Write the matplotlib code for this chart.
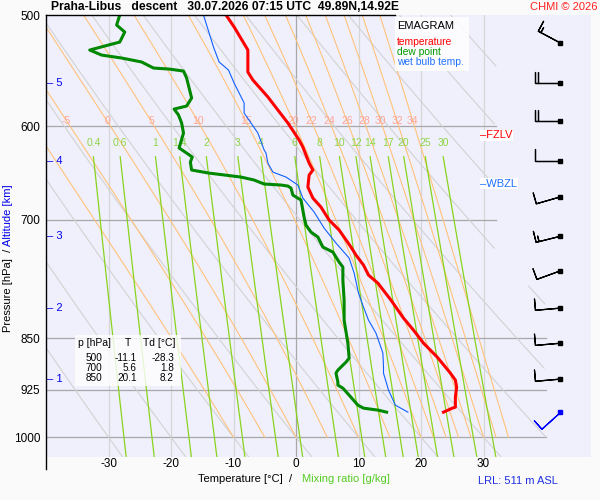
import numpy as np
import matplotlib
matplotlib.use('Agg')
import matplotlib.pyplot as plt
from matplotlib.lines import Line2D
from matplotlib.patches import Rectangle
from matplotlib.ticker import NullLocator

plt.rcParams['font.family'] = ['Liberation Sans', 'DejaVu Sans']

# sounding (p [hPa], T [C])
temp_p = [500, 509.9, 529.6, 549.1, 556.3, 572.0, 584.4, 597.0, 613.9, 621.0, 637.6, 644.9,
          650.3, 663.2, 675.3, 685.4, 700.1, 711.7, 731.9, 741.6, 753.8, 766.3, 776.5, 798.5,
          822.4, 838.8, 856.9, 876.8, 900.1, 910.5, 921.1, 936.4, 951.9, 953.4, 959.7]
temp_t = [-11.2, -9.9, -7.7, -7.7, -6.9, -4.5, -2.9, -1.3, 0.5, 1.1, 2.1, 2.7,
          2.1, 1.9, 2.7, 4.0, 5.3, 6.9, 8.8, 9.6, 10.8, 11.6, 13.1, 15.2,
          17.2, 18.8, 20.4, 22.6, 24.7, 25.5, 25.7, 25.5, 25.5, 25.0, 23.6]

dew_p = [500, 508.3, 514.2, 522.7, 529.6, 534.0, 536.6, 540.1, 545.5, 546.4, 548.2, 554.5,
         573.0, 580.6, 583.5, 589.2, 597.0, 606.9, 622.0, 627.2, 631.3, 636.5, 644.9, 648.1,
         652.4, 655.6, 659.9, 661.0, 662.1, 664.3, 672.0, 677.5, 696.7, 705.9, 714.1, 719.9,
         731.9, 737.9, 750.2, 756.3, 772.6, 798.5, 825.1, 856.9, 878.2, 884.0, 895.7, 900.1,
         913.5, 918.1, 922.6, 933.3, 948.7, 953.4, 956.6, 959.7]
dew_t = [-28.2, -28.7, -27.4, -28.2, -33.0, -31.1, -27.9, -24.7, -22.8, -20.3, -18.0, -17.5,
         -16.7, -17.5, -19.5, -18.8, -18.3, -18.0, -18.7, -17.5, -16.6, -16.9, -16.7, -14.0,
         -8.8, -6.7, -5.1, -2.4, -1.3, -0.8, -0.5, 0.8, 1.3, 1.6, 2.4, 3.5,
         4.3, 5.9, 6.9, 7.5, 7.5, 7.7, 7.7, 8.3, 8.5, 8.0, 6.7, 6.4,
         6.7, 6.7, 7.5, 8.5, 9.9, 10.8, 13.2, 14.5]

wb_p = [500, 527.0, 540.1, 547.3, 559.1, 577.7, 587.3, 597.0, 606.9, 624.1, 627.2, 637.6,
        647.1, 652.4, 661.0, 675.3, 691.0, 709.4, 727.1, 745.2, 763.8, 789.3, 807.7, 825.1,
        843.0, 871.0, 891.3, 900.1, 925.6, 948.7, 959.7]
wb_t = [-14.8, -13.2, -12.3, -10.8, -9.9, -8.3, -8.3, -7.2, -6.1, -5.1, -4.8, -4.5,
        -3.7, -1.6, 0.3, 1.1, 2.9, 4.5, 6.4, 8.5, 9.3, 10.0, 10.8, 11.6,
        12.8, 13.9, 14.0, 14.0, 14.8, 15.9, 17.9]

# winds every 0.5 km, last one is the surface
wind_p = [523.5, 559, 595, 635, 674, 719, 761, 809, 857, 909, 960]
wind_dir = [298, 270, 270, 270, 254, 256, 250, 265, 265, 265, 228]
wind_kt = [15, 20, 20, 10, 10, 15, 10, 10, 10, 10, 10]

alt_km = [1, 2, 3, 4, 5]
alt_p = [909, 809, 719, 635, 559]

table_p = [500, 700, 850]
table_t = [-11.1, 5.6, 20.1]
table_td = [-28.3, 1.8, 8.2]

theta_w = [-10, -5, 0, 5, 10, 15, 20, 22, 24, 26, 28, 30, 32, 34]
theta_w_lab = [-5, 0, 5, 10, 15, 20, 22, 24, 26, 28, 30, 32, 34]
mix_r = [0.4, 0.6, 1, 1.4, 2, 3, 4, 6, 8, 10, 12, 14, 17, 20, 25, 30]
mix_lab = ['0.4', '0.6', '1', '1.4', '2', '3', '4', '6', '8', '10', '12', '14', '17', '20', '25', '30']
dry_theta = list(range(-30, 140, 10))

p_levels = [500, 600, 700, 850, 925, 1000]
t_ticks = [-30, -20, -10, 0, 10, 20, 30]
P_BOT = 1033.0
T_MAX = 47.2


def px(x, y):
    return x / 600, 1 - y / 500


def es(tc):
    return 6.112 * np.exp(17.67 * tc / (tc + 243.5))


def td_from_mix(w, p):
    e = w * p / (622.0 + w)
    a = np.log(e / 6.112)
    return 243.5 * a / (17.67 - a)


def moist_adiabat(t0, p):
    Rd, cp, Lv, eps = 287.04, 1005.7, 2.501e6, 0.622

    def f(T, pp):
        e = es(T - 273.15)
        rs = eps * e / (pp - e)
        return (Rd * T + Lv * rs) / (cp + Lv * Lv * rs * eps / (Rd * T * T)) / pp

    T = np.empty(len(p))
    T[0] = t0 + 273.15
    for i in range(1, len(p)):
        dp = p[i] - p[i - 1]
        k1 = f(T[i - 1], p[i - 1])
        k2 = f(T[i - 1] + dp * k1, p[i])
        T[i] = T[i - 1] + dp * (k1 + k2) / 2
    return T - 273.15


fig = plt.figure(figsize=(6, 5), dpi=100, facecolor='#fafafa')
x0, y0 = px(46, 457)
x1, y1 = px(591, 15)
ax = fig.add_axes([x0, y0, x1 - x0, y1 - y0])
ax.set_facecolor('#f0f0fd')
ax.set_yscale('log')
ax.set_xlim(-40, T_MAX)
ax.set_ylim(P_BOT, 500)
for s in ax.spines.values():
    s.set_visible(False)

# grid
for t in t_ticks:
    ax.plot([t, t], [500, P_BOT], color='#a8a8a8' if t == 0 else '#d6d6d6', lw=0.9, zorder=1)
for p in p_levels[1:]:
    ax.plot([-40, 32 if p < 800 else 40], [p, p], color='#a8a8a8', lw=0.9, zorder=1)

# dry adiabats
pp = np.geomspace(500, P_BOT, 200)
for th in dry_theta:
    tt = (th + 273.15) * (pp / 1000.0) ** 0.2857 - 273.15
    lim = np.where(pp < 780, 32, 40)
    tt = np.where(tt > lim, np.nan, tt)
    ax.plot(tt, pp, color='#d2d2d2', lw=0.8, zorder=1)

# moist adiabats
pm = np.linspace(1000, 500, 250)
for tw in theta_w:
    tm = moist_adiabat(tw, pm)
    ax.plot(tm, pm, color='#ffc27a', lw=0.8, zorder=1)
    if tw in theta_w_lab:
        tl = np.interp(595, pm[::-1], tm[::-1])
        ax.text(tl, 595, str(tw), color='#ffa590', fontsize=7.5, ha='center', va='center', zorder=3)

# mixing ratio lines
pw = np.geomspace(631, P_BOT, 60)
for w, lab in zip(mix_r, mix_lab):
    ax.plot(td_from_mix(w, pw), pw, color='#88d41c', lw=0.9, zorder=1)
    ax.text(td_from_mix(w, 631), 617, lab, color='#8fd545', fontsize=7.5, ha='center', va='center', zorder=3)

# profiles
ax.plot(wb_t, wb_p, color='#1060ff', lw=0.8, zorder=5)
ax.plot(dew_t, dew_p, color='#008800', lw=2.2, zorder=6)
ax.plot(temp_t, temp_p, color='#ff0000', lw=2.2, zorder=7)

# freezing levels
tt_arr = np.array(temp_t)
i = np.argmax(tt_arr >= 0)
p_fz = np.interp(0, [temp_t[i - 1], temp_t[i]], [temp_p[i - 1], temp_p[i]])
wb_arr = np.array(wb_t)
i = np.argmax(wb_arr >= 0)
p_wb = np.interp(0, [wb_t[i - 1], wb_t[i]], [wb_p[i - 1], wb_p[i]])
ax.text(29.5, p_fz, '–FZLV', color='#ff0000', fontsize=8, ha='left', va='center', zorder=8,
        bbox=dict(facecolor='white', edgecolor='none', pad=0.5))
ax.text(29.5, p_wb, '–WBZL', color='#2070ff', fontsize=8, ha='left', va='center', zorder=8,
        bbox=dict(facecolor='white', edgecolor='none', pad=0.5))

# altitude ticks
for km, p in zip(alt_km, alt_p):
    ax.text(-39.8, p, '– ' + str(km), color='#0000ee', fontsize=8, ha='left', va='center', zorder=8)

# wind barbs
xb = 42.3
u = [-s * np.sin(np.radians(d)) for s, d in zip(wind_kt, wind_dir)]
v = [-s * np.cos(np.radians(d)) for s, d in zip(wind_kt, wind_dir)]
bs = dict(spacing=0.12, height=0.45, width=0.0, emptybarb=0.0)
ax.barbs([xb] * 10, wind_p[:10], u[:10], v[:10], length=6, pivot='tip', sizes=bs,
         color='black', lw=0.9, zorder=8, clip_on=False)
ax.barbs([xb], wind_p[10:], u[10:], v[10:], length=6, pivot='tip', sizes=bs,
         color='#0000ff', lw=0.9, zorder=8, clip_on=False)
ax.plot([xb] * 10, wind_p[:10], 's', color='black', ms=2.5, zorder=9)
ax.plot([xb], wind_p[10:], 's', color='#0000ff', ms=2.5, zorder=9)

# ticks
ax.set_xticks(t_ticks)
ax.set_xticklabels([str(t) for t in t_ticks])
ax.set_yticks(p_levels)
ax.set_yticklabels([str(p) for p in p_levels])
ax.yaxis.set_minor_locator(NullLocator())
ax.tick_params(axis='both', length=0, labelsize=8.5, colors='black')
ax.tick_params(axis='y', pad=4)
ax.tick_params(axis='x', pad=1)

# frame lines
fig.add_artist(Line2D([46 / 600, 46 / 600], [1 - 15 / 500, 1 - 469 / 500], color='black', lw=1))
fig.add_artist(Line2D([46 / 600, 395 / 600], [1 - 15 / 500, 1 - 15 / 500], color='black', lw=1))

# legend box
bx, by = px(395, 71)
fig.add_artist(Rectangle((bx, by), 74 / 600, 54 / 500, transform=fig.transFigure,
                         facecolor='white', edgecolor='none', alpha=0.85, zorder=10))
fig.text(*px(397, 26), 'EMAGRAM', fontsize=8, color='black', va='center', zorder=11)
fig.text(*px(397, 42), 'temperature', fontsize=7.4, color='#ff0000', va='center', zorder=11)
fig.text(*px(397, 52), 'dew point', fontsize=7.4, color='#009900', va='center', zorder=11)
fig.text(*px(397, 62), 'wet bulb temp.', fontsize=7.4, color='#2070ff', va='center', zorder=11)

# values table
bx, by = px(75, 386)
fig.add_artist(Rectangle((bx, by), 106 / 600, 51 / 500, transform=fig.transFigure,
                         facecolor='white', edgecolor='none', alpha=0.8, zorder=10))
fig.text(*px(78, 343), 'p [hPa]', fontsize=7.5, va='center', zorder=11)
fig.text(*px(128, 343), 'T', fontsize=7.5, va='center', ha='center', zorder=11)
fig.text(*px(143, 343), 'Td [°C]', fontsize=7.5, va='center', zorder=11)
for k, (p, t, td) in enumerate(zip(table_p, table_t, table_td)):
    yy = 358 + 10 * k
    fig.text(*px(102, yy), str(p), fontsize=7.2, ha='right', va='center', zorder=11)
    fig.text(*px(137, yy), '%.1f' % t, fontsize=7.2, ha='right', va='center', zorder=11)
    fig.text(*px(174, yy), '%.1f' % td, fontsize=7.2, ha='right', va='center', zorder=11)

# titles and axis labels
fig.text(*px(51, 7), 'Praha-Libus   descent   30.07.2026 07:15 UTC  49.89N,14.92E',
         fontsize=8.7, fontweight='bold', va='center', ha='left')
fig.text(*px(597, 7), 'CHMI © 2026', fontsize=8, color='#ff2020', va='center', ha='right')
fig.text(*px(292, 479), 'Temperature [°C]  /', fontsize=8, va='center', ha='right')
fig.text(*px(302, 479), 'Mixing ratio [g/kg]', fontsize=8, color='#55cc22', va='center', ha='left')
fig.text(*px(558, 481), 'LRL: 511 m ASL', fontsize=8, color='#2030e0', va='center', ha='right')
fig.text(*px(8, 246), 'Altitude [km]', fontsize=8, color='#0000ee', rotation=90, ha='center', va='bottom')
fig.text(*px(8, 249), 'Pressure [hPa]  /', fontsize=8, color='black', rotation=90, ha='center', va='top')

fig.savefig('out.png', dpi=100, facecolor=fig.get_facecolor())
